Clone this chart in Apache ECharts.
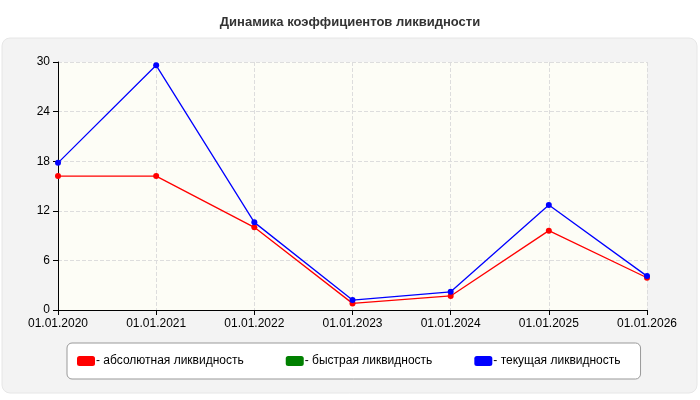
<!DOCTYPE html>
<html><head><meta charset="utf-8">
<script src="https://cdn.jsdelivr.net/npm/echarts@6/dist/echarts.min.js"></script>
<style>html,body{margin:0;padding:0;background:#fff}#c{width:700px;height:400px}</style>
</head><body><div id="c"></div>
<script>
const categories = ['01.01.2020','01.01.2021','01.01.2022','01.01.2023','01.01.2024','01.01.2025','01.01.2026'];
const absolute = [16.2, 16.2, 10.0, 0.8, 1.7, 9.6, 3.9];
const quick = [];
const current = [17.8, 29.6, 10.6, 1.2, 2.2, 12.7, 4.1];
const yTicks = [0, 6, 12, 18, 24, 30];

const chart = echarts.init(document.getElementById('c'));
const font = 'Arial, "Liberation Sans", sans-serif';
function s(name, data, color) {
  return {name, type:'line', data, color, symbol:'circle', symbolSize:6,
    lineStyle:{width:1.3, color}, itemStyle:{color}, z: color==='#0000ff'?3:2};
}
chart.setOption({
  animation:false,
  textStyle:{fontFamily:font},
  title:{text:'Динамика коэффициентов ликвидности', left:'center', top:11,
    textStyle:{fontSize:13, fontWeight:'bold', color:'#333', fontFamily:font}},
  graphic:[{type:'rect', shape:{x:2, y:38, width:695, height:355, r:8},
    style:{fill:'#f3f3f3', stroke:'#e6e6e6'}, z:-10}],
  grid:{left:58, right:53, top:62, bottom:90, show:true, backgroundColor:'#fdfdf6', borderWidth:0},
  xAxis:{type:'category', data:categories, boundaryGap:false,
    axisLine:{lineStyle:{color:'#000'}}, axisTick:{show:true, lineStyle:{color:'#000'}},
    axisLabel:{color:'#000', fontSize:12, margin:8},
    splitLine:{show:true, lineStyle:{type:'dashed', color:'#ddd'}}},
  yAxis:{type:'value', min:yTicks[0], max:yTicks[yTicks.length-1], interval:6,
    axisLine:{show:true, lineStyle:{color:'#000'}}, axisTick:{show:true, lineStyle:{color:'#000'}},
    axisLabel:{color:'#000', fontSize:12},
    splitLine:{show:true, lineStyle:{type:'dashed', color:'#ddd'}}},
  legend:{left:67, top:343, width:567, itemGap:42, padding:[12,20,12,10],
    backgroundColor:'#fff', borderColor:'#999', borderWidth:1, borderRadius:5,
    icon:'roundRect', itemWidth:18, itemHeight:10,
    formatter:n=>'- '+n, textStyle:{fontSize:12, color:'#000', padding:[0,0,0,-4]},
    data:['абсолютная ликвидность','быстрая ликвидность','текущая ликвидность']},
  series:[s('абсолютная ликвидность', absolute, '#ff0000'),
          s('быстрая ликвидность', quick, '#008000'),
          s('текущая ликвидность', current, '#0000ff')]
});
</script></body></html>
